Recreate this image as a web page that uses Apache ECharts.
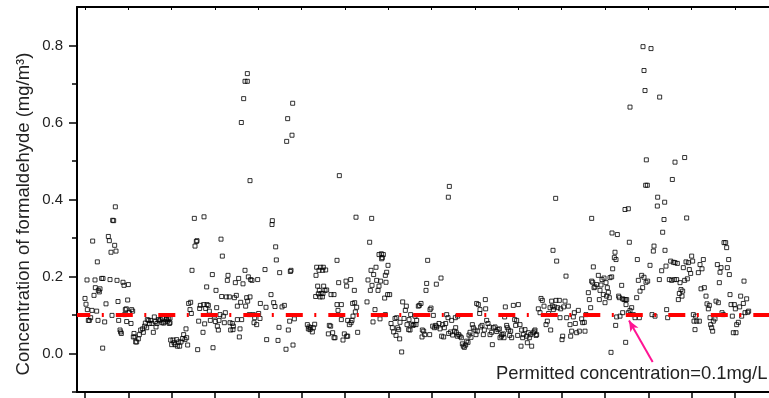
<!DOCTYPE html>
<html>
<head>
<meta charset="utf-8">
<script src="https://cdn.jsdelivr.net/npm/echarts@6/dist/echarts.min.js"></script>
<style>
  html, body { margin: 0; padding: 0; background: #fff; }
  #chart { width: 769px; height: 398px; }
</style>
</head>
<body>
<div id="chart"></div>
<script>
// sample index (x) vs formaldehyde concentration in mg/m3 (y), grouped by stretch of the record
const seg1 = [[0.0,0.143],[0.3,0.128],[0.7,0.114],[0.6,0.191],[1.0,0.086],[1.3,0.086],[1.7,0.093],[2.1,0.112],[2.3,0.292],[3.0,0.191],[2.7,0.151],[3.1,0.171],[3.5,0.110],[3.7,0.238],[4.0,0.164],[4.3,0.160],[4.5,0.168],[3.9,0.086],[5.0,0.195],[5.4,0.195],[5.3,0.014],[5.9,0.082],[6.3,0.129],[7.0,0.304],[7.3,0.293],[7.5,0.192],[7.8,0.263],[8.1,0.099],[8.3,0.346],[8.6,0.345],[8.9,0.281],[9.1,0.381],[9.3,0.266],[9.6,0.190],[9.9,0.135],[10.1,0.086],[10.5,0.061],[10.7,0.056],[10.9,0.052],[11.4,0.185],[11.7,0.177],[11.9,0.101],[12.1,0.114],[12.4,0.116],[12.8,0.139],[13.0,0.179],[12.5,0.083],[13.8,0.078],[13.3,0.106],[14.0,0.114],[14.3,0.110],[14.5,0.043],[14.7,0.052],[15.0,0.043],[15.2,0.030],[15.5,0.030],[16.0,0.038],[16.3,0.049],[16.7,0.061],[17.3,0.064],[17.5,0.055],[17.9,0.071],[18.1,0.079],[18.5,0.067],[18.7,0.088],[19.1,0.086],[19.4,0.078],[19.7,0.086],[20.1,0.078],[20.5,0.055],[20.8,0.095],[21.1,0.083],[21.3,0.069],[21.6,0.078],[22.0,0.088],[22.3,0.085],[22.7,0.088],[23.1,0.080],[23.3,0.092],[23.6,0.079],[24.0,0.082],[24.3,0.088],[24.5,0.091],[24.8,0.084],[25.0,0.090],[25.3,0.078],[25.5,0.092],[25.5,0.080]];
const seg2 = [[25.7,0.035],[26.0,0.023],[26.4,0.035],[26.7,0.028],[27.0,0.023],[27.5,0.036],[27.7,0.019],[28.1,0.030],[28.4,0.019],[28.8,0.030],[29.3,0.039],[29.6,0.049],[30.0,0.036],[30.3,0.064],[30.5,0.041],[30.8,0.022],[31.1,0.130],[31.5,0.114],[31.7,0.133],[31.9,0.104],[32.1,0.216],[32.8,0.351],[33.0,0.279],[33.4,0.291],[33.6,0.293],[33.8,0.010],[34.1,0.084],[34.4,0.117],[34.6,0.125],[35.4,0.055],[35.7,0.355],[35.6,0.127],[35.9,0.077],[36.2,0.117],[36.5,0.173],[36.6,0.127],[37.0,0.125],[37.3,0.110],[37.6,0.086],[38.2,0.205],[38.4,0.015],[38.8,0.097],[39.1,0.083],[39.3,0.164],[39.5,0.119],[39.7,0.071],[40.0,0.061],[40.2,0.086],[40.5,0.101],[40.8,0.297],[41.0,0.148],[41.2,0.253],[41.5,0.097],[41.8,0.080],[42.1,0.106],[42.4,0.147],[42.7,0.190],[42.9,0.203],[43.3,0.147],[43.5,0.080],[43.7,0.061],[44.2,0.078],[44.4,0.062],[44.5,0.071],[44.8,0.145],[45.1,0.184],[45.4,0.151],[45.7,0.123],[45.7,0.088],[46.1,0.195],[46.3,0.043],[46.5,0.064],[46.7,0.133],[47.0,0.088],[47.4,0.181],[48.0,0.216],[48.2,0.123],[48.5,0.145],[48.8,0.136],[49.0,0.199],[49.3,0.101],[49.5,0.147],[49.7,0.192],[50.1,0.190],[50.5,0.101],[50.7,0.080],[50.9,0.093],[51.5,0.075],[51.8,0.192],[52.1,0.104],[48.7,0.727],[48.0,0.707],[48.7,0.707],[47.6,0.662],[46.9,0.600],[49.5,0.449]];
const seg3 = [[56.2,0.345],[56.1,0.335],[57.2,0.277],[57.4,0.243],[54.0,0.218],[58.4,0.210],[61.6,0.213],[61.8,0.216],[55.8,0.153],[56.6,0.132],[57.0,0.122],[54.3,0.120],[52.6,0.130],[52.5,0.091],[58.2,0.068],[59.1,0.121],[59.8,0.125],[61.4,0.084],[61.0,0.061],[62.8,0.090],[54.5,0.036],[57.9,0.034],[60.3,0.011],[62.4,0.022],[62.3,0.650],[60.8,0.610],[62.1,0.567],[60.5,0.551],[66.7,0.075],[67.2,0.069],[67.7,0.067],[67.5,0.062],[68.2,0.056],[68.5,0.067],[68.9,0.076],[67.0,0.064],[69.3,0.203],[69.5,0.224],[70.2,0.216],[70.7,0.224],[71.3,0.216],[71.5,0.224],[72.2,0.217],[69.8,0.175],[70.3,0.164],[70.8,0.156],[70.5,0.147],[71.6,0.175],[72.0,0.164],[72.5,0.165],[71.4,0.156],[71.2,0.147],[69.2,0.148],[70.0,0.155],[73.8,0.153],[74.7,0.153],[73.0,0.051],[74.3,0.054],[74.7,0.041],[75.0,0.041],[73.7,0.071],[73.3,0.073],[75.6,0.242],[76.1,0.184],[75.6,0.127],[76.9,0.127],[75.9,0.112],[76.9,0.088],[77.4,0.035],[77.8,0.051],[78.5,0.045],[78.8,0.045],[78.3,0.188],[78.5,0.175],[79.7,0.192],[80.8,0.164],[78.8,0.086],[79.3,0.075],[80.1,0.086],[79.8,0.080],[80.4,0.097],[80.3,0.130],[80.9,0.132],[81.3,0.354],[81.1,0.108],[81.5,0.120],[81.8,0.055],[76.3,0.462]];
const seg4 = [[84.6,0.134],[84.9,0.191],[85.8,0.216],[85.6,0.164],[86.1,0.177],[85.4,0.289],[86.0,0.351],[86.6,0.205],[87.3,0.224],[87.5,0.190],[87.0,0.114],[86.4,0.082],[87.9,0.164],[88.2,0.175],[88.7,0.188],[88.2,0.257],[88.9,0.259],[89.5,0.257],[89.0,0.246],[89.2,0.249],[90.1,0.203],[90.5,0.211],[90.9,0.229],[90.3,0.185],[90.8,0.153],[91.4,0.153],[89.9,0.144],[88.5,0.090],[90.1,0.101],[91.8,0.078],[92.2,0.067],[92.6,0.056],[93.0,0.091],[93.5,0.093],[93.8,0.067],[93.3,0.047],[94.4,0.038],[94.1,0.062],[94.5,0.081],[95.0,0.004],[95.3,0.134],[95.7,0.091],[96.1,0.112],[96.4,0.123],[96.6,0.075],[97.1,0.062],[97.2,0.088],[97.5,0.061],[97.7,0.101],[98.0,0.076],[98.4,0.073],[98.7,0.075],[99.0,0.097],[99.3,0.075],[99.5,0.086],[100.0,0.123],[100.3,0.125],[100.8,0.130],[101.2,0.061],[101.6,0.058],[101.1,0.043],[101.9,0.049],[102.3,0.164],[102.5,0.182],[102.8,0.242],[103.5,0.114],[103.8,0.118],[104.5,0.099],[103.4,0.049],[104.3,0.071],[104.8,0.067],[105.2,0.073],[105.5,0.069],[106.2,0.078],[106.5,0.064],[105.4,0.180],[106.8,0.196],[107.0,0.045],[107.6,0.043],[107.3,0.075],[107.8,0.067],[108.2,0.078],[108.5,0.101],[108.9,0.093],[109.3,0.434],[109.0,0.406]];
const seg5 = [[109.1,0.052],[109.7,0.056],[110.3,0.048],[110.8,0.058],[111.2,0.067],[111.4,0.054],[111.7,0.045],[112.1,0.049],[112.5,0.045],[112.9,0.041],[113.2,0.025],[113.5,0.019],[113.8,0.016],[114.2,0.022],[114.5,0.032],[114.9,0.029],[115.2,0.048],[115.5,0.055],[115.8,0.042],[110.0,0.086],[111.8,0.097],[111.1,0.093],[116.2,0.075],[116.5,0.067],[117.0,0.061],[117.3,0.049],[117.7,0.058],[118.4,0.104],[118.0,0.127],[117.5,0.130],[118.5,0.114],[118.7,0.069],[119.1,0.073],[119.5,0.049],[119.8,0.061],[120.2,0.116],[120.1,0.140],[120.5,0.086],[120.9,0.078],[121.3,0.069],[121.5,0.049],[122.0,0.055],[122.2,0.023],[122.5,0.067],[123.0,0.069],[123.5,0.057],[123.9,0.062],[124.3,0.064],[124.5,0.041],[124.9,0.045],[125.1,0.049],[125.5,0.051],[125.7,0.041],[126.1,0.121],[125.9,0.095],[126.5,0.073],[126.7,0.067],[127.1,0.061],[127.4,0.047],[127.7,0.058],[128.0,0.041],[128.5,0.125],[128.9,0.088],[129.2,0.073],[129.5,0.086],[129.8,0.047],[130.0,0.127],[130.5,0.075],[131.0,0.061],[131.5,0.049],[132.0,0.062],[132.5,0.045],[133.0,0.054],[133.3,0.041],[133.7,0.049],[134.0,0.019],[134.5,0.054],[135.0,0.061],[135.3,0.047],[135.5,0.049],[132.7,0.028],[131.3,0.041],[130.8,0.019],[134.8,0.058]];
const seg6 = [[136.0,0.116],[136.5,0.106],[136.8,0.143],[137.2,0.138],[137.7,0.123],[138.3,0.075],[138.7,0.084],[139.1,0.104],[139.5,0.119],[139.7,0.061],[140.0,0.136],[140.2,0.123],[140.5,0.114],[140.9,0.121],[141.3,0.138],[141.5,0.240],[140.4,0.268],[141.8,0.119],[142.3,0.138],[142.5,0.093],[142.7,0.116],[143.1,0.036],[143.3,0.045],[143.6,0.121],[144.0,0.136],[144.3,0.201],[144.5,0.093],[145.0,0.123],[145.5,0.075],[145.7,0.045],[146.0,0.058],[146.5,0.095],[146.8,0.106],[147.1,0.078],[147.5,0.054],[148.0,0.112],[148.3,0.058],[149.0,0.090],[149.3,0.080],[149.8,0.081],[150.0,0.058],[141.2,0.403]];
const seg7 = [[150.3,0.101],[151.0,0.158],[151.3,0.140],[151.7,0.119],[152.0,0.188],[152.3,0.185],[152.5,0.225],[152.0,0.351],[152.7,0.171],[153.0,0.173],[153.5,0.179],[154.0,0.203],[154.3,0.140],[154.5,0.164],[154.8,0.178],[155.1,0.192],[155.5,0.153],[155.7,0.196],[156.0,0.132],[156.3,0.184],[156.7,0.171],[157.0,0.159],[156.5,0.149],[157.3,0.145],[157.5,0.197],[157.8,0.003],[158.0,0.199],[158.1,0.313],[158.3,0.220],[158.8,0.249],[159.0,0.263],[159.2,0.073],[159.3,0.244],[159.5,0.095],[159.7,0.309],[160.1,0.149],[160.3,0.145],[160.5,0.097],[161.0,0.177],[161.3,0.142],[161.3,0.106],[161.7,0.140],[162.1,0.140],[162.2,0.029],[162.3,0.127],[162.5,0.140],[163.3,0.289],[162.0,0.374],[163.0,0.376],[163.0,0.106],[163.5,0.112],[164.0,0.119],[164.5,0.101],[165.0,0.093],[165.5,0.145],[165.7,0.244],[166.0,0.190],[166.3,0.093],[166.5,0.162],[167.0,0.203],[167.3,0.171],[167.7,0.198],[168.3,0.185],[168.8,0.188],[169.5,0.229],[170.1,0.101],[170.5,0.266],[170.7,0.279],[171.0,0.097],[172.3,0.192],[173.0,0.215],[174.0,0.268],[174.3,0.227],[174.5,0.114],[174.8,0.093],[175.3,0.192],[175.7,0.240],[176.0,0.190],[176.5,0.237],[176.8,0.192],[177.0,0.236],[177.5,0.192],[177.7,0.234],[178.0,0.140],[178.3,0.156],[178.5,0.184],[178.8,0.166],[179.1,0.149],[179.3,0.162],[179.5,0.223],[179.9,0.190],[180.3,0.238],[180.5,0.352],[180.7,0.194],[181.0,0.236],[181.3,0.218],[181.7,0.208],[171.7,0.383],[173.9,0.393],[173.3,0.315],[173.7,0.348],[167.4,0.797],[169.8,0.792],[167.7,0.735],[168.0,0.683],[172.4,0.666],[163.5,0.640],[168.4,0.503],[177.0,0.497],[179.9,0.509],[176.2,0.452],[168.2,0.437],[168.7,0.437],[171.8,0.406]];
const seg8 = [[182.3,0.240],[182.0,0.253],[182.5,0.101],[182.7,0.084],[183.0,0.062],[183.2,0.097],[183.5,0.084],[184.0,0.210],[184.3,0.084],[184.5,0.231],[184.8,0.168],[185.1,0.220],[185.5,0.244],[185.8,0.171],[186.3,0.149],[186.6,0.129],[187.0,0.116],[187.3,0.125],[187.5,0.093],[187.7,0.075],[188.0,0.067],[188.3,0.058],[188.5,0.084],[189.0,0.090],[189.3,0.136],[189.7,0.231],[190.0,0.132],[190.3,0.184],[190.5,0.211],[190.8,0.223],[191.1,0.106],[191.5,0.101],[191.7,0.288],[192.2,0.288],[192.5,0.275],[192.7,0.223],[193.1,0.244],[193.3,0.205],[193.5,0.153],[193.8,0.127],[194.2,0.097],[194.5,0.054],[194.8,0.127],[195.1,0.116],[195.3,0.054],[195.5,0.075],[196.0,0.081],[196.4,0.121],[196.7,0.149],[197.0,0.097],[197.5,0.130],[197.7,0.188],[198.0,0.106],[198.5,0.142],[198.8,0.107],[199.1,0.110]];

const permittedLimit = 0.1;
const xTickValues = [0, 13, 26, 39, 52, 65, 78, 91, 104, 117, 130, 143, 156, 169, 182, 195];
const xRange = [-2.4, 205.2];
const yRange = [-0.1, 0.9];
const yMajorRange = [0, 0.8];    // labelled ticks every 0.2
const yMinorRange = [-0.1, 0.7]; // short ticks in between
// arrow pointing at the limit line
const arrowTail = [170.3, -0.022];
const arrowHead = [163.2, 0.086];

const font = "'Liberation Sans', Arial, sans-serif";
const chart = echarts.init(document.getElementById("chart"), null, { renderer: "canvas" });

// the full -0.1..0.9 span is 385px tall; two helper grids carry the major / minor y ticks
const plotTop = 7, plotBottom = 6, pxPerUnit = 385;
const gridFor = (lo, hi) => ({
  left: 77, right: 0,
  top: plotTop + (yRange[1] - hi) * pxPerUnit,
  bottom: plotBottom + (lo - yRange[0]) * pxPerUnit,
  containLabel: false, outerBoundsMode: "none",
});

const hiddenX = (gridIndex) => ({ type: "value", gridIndex, show: false, min: xRange[0], max: xRange[1] });
const blackLine = { show: true, onZero: false, lineStyle: { color: "#000", width: 2 } };

chart.setOption({
  animation: false,
  backgroundColor: "#fff",
  grid: [gridFor(yRange[0], yRange[1]), gridFor(yMajorRange[0], yMajorRange[1]), gridFor(yMinorRange[0], yMinorRange[1])],
  xAxis: [
    {
      type: "value",
      gridIndex: 0,
      position: "bottom",
      min: xRange[0],
      max: xRange[1],
      splitLine: { show: false },
      axisLabel: { show: false },
      axisLine: blackLine,
      axisTick: { show: true, customValues: xTickValues, length: 8, lineStyle: { color: "#000", width: 1.5 } },
    },
    {
      type: "value",
      gridIndex: 0,
      position: "top",
      min: xRange[0],
      max: xRange[1],
      splitLine: { show: false },
      axisLabel: { show: false },
      axisLine: blackLine,
      axisTick: { show: true, customValues: xTickValues, inside: true, length: 3, lineStyle: { color: "#000", width: 1 } },
    },
    hiddenX(1),
    hiddenX(2),
  ],
  yAxis: [
    {
      type: "value",
      gridIndex: 0,
      position: "left",
      min: yRange[0],
      max: yRange[1],
      splitLine: { show: false },
      axisLabel: { show: false },
      axisTick: { show: false },
      axisLine: blackLine,
    },
    {
      type: "value",
      gridIndex: 1,
      position: "left",
      min: yMajorRange[0],
      max: yMajorRange[1],
      interval: 0.2,
      splitLine: { show: false },
      axisLine: blackLine,
      axisTick: { show: true, length: 8, lineStyle: { color: "#000", width: 1.5 } },
      axisLabel: {
        show: true,
        formatter: (v) => v.toFixed(1),
        margin: 14,
        fontSize: 15,
        fontFamily: font,
        color: "#222",
      },
    },
    {
      type: "value",
      gridIndex: 2,
      position: "left",
      min: yMinorRange[0],
      max: yMinorRange[1],
      interval: 0.2,
      splitLine: { show: false },
      axisLine: blackLine,
      axisLabel: { show: false },
      axisTick: { show: true, length: 5, lineStyle: { color: "#000", width: 1.5 } },
    },
  ],
  graphic: [
    {
      type: "text",
      x: 24,
      y: 214,
      rotation: Math.PI / 2,
      style: {
        text: "Concentration of formaldehyde (mg/m³)",
        font: "18.5px " + font,
        fill: "#222",
        align: "center",
        verticalAlign: "middle",
      },
    },
    {
      type: "text",
      x: 496,
      y: 373.5,
      style: {
        text: "Permitted concentration=0.1mg/L",
        font: "18.4px " + font,
        fill: "#222",
        align: "left",
        verticalAlign: "middle",
      },
    },
  ],
  series: [
    {
      type: "scatter",
      xAxisIndex: 0,
      yAxisIndex: 0,
      symbol: "rect",
      symbolSize: 4,
      itemStyle: { color: "transparent", borderColor: "#000", borderWidth: 1 },
      data: [...seg1, ...seg2, ...seg3, ...seg4, ...seg5, ...seg6, ...seg7, ...seg8],
      markLine: {
        silent: true,
        symbol: "none",
        label: { show: false },
        data: [
          {
            yAxis: permittedLimit,
            lineStyle: { color: "#ff0000", width: 4, type: [17, 11.5, 2, 12], dashOffset: 3.7, cap: "butt" },
          },
          [
            { coord: arrowTail, lineStyle: { color: "#ff1493", width: 2, type: "solid" } },
            { coord: arrowHead, symbol: "arrow", symbolSize: [7, 11] },
          ],
        ],
      },
    },
  ],
});
</script>
</body>
</html>
